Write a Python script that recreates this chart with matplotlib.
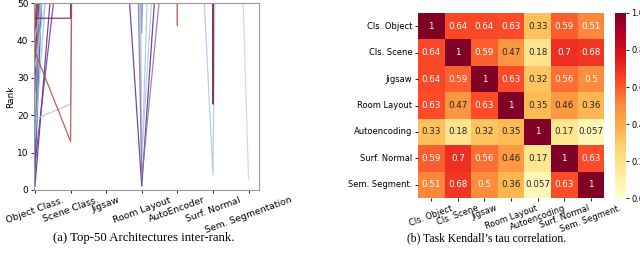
import matplotlib
matplotlib.use("Agg")
import matplotlib.pyplot as plt
import numpy as np
import seaborn as sns

# left panel: rank of each top-50 architecture on every task (ranks > 50 fall off the top)
tasks = ["Object Class.", "Scene Class.", "Jigsaw", "Room Layout",
         "AutoEncoder", "Surf. Normal", "Sem. Segmentation"]

arch_ranks = [
    [1, 118, 1800, 1500, 1400, 1300, 1600],
    [4, 260, 1700, 1600, 1500, 1400, 1500],
    [7, 90, 1600, 1400, 1300, 1200, 1400],
    [9, 400, 1500, 1300, 1200, 1100, 1300],
    [11, 330, 1400, 1200, 1100, 1000, 1200],
    [14, 140, 1300, 1100, 1000, 900, 1100],
    [19, 23, 1400, 1000, 900, 800, 1000],
    [22, 600, 1200, 900, 800, 700, 900],
    [26, 160, 1100, 800, 700, 600, 800],
    [29, 420, 1000, 700, 600, 500, 700],
    [31, 300, 900, 600, 500, 400, 600],
    [33, 95, 800, 500, 400, 300, 500],
    [37, 13, 1300, 1400, 1300, 1200, 1100],
    [39, 700, 700, 600, 500, 400, 300],
    [41, 85, 600, 500, 400, 300, 200],
    [43, 350, 500, 400, 300, 200, 300],
    [45, 900, 400, 300, 200, 300, 400],
    [46, 46, 2000, 1800, 1700, 1600, 1500],
    [48, 250, 300, 200, 300, 400, 500],
    [50, 500, 200, 300, 400, 500, 600],
    [1500, 1400, 145, 1, 140, 1200, 1100],
    [1400, 1300, 800, 6, 300, 1100, 1000],
    [1300, 1200, 1200, 9, 160, 1000, 900],
    [1200, 1100, 600, 42, 400, 900, 800],
    [1100, 1000, 500, 3, 100, 800, 700],
    [1000, 900, 2500, 3000, 44, 3000, 2000],
    [900, 800, 700, 600, 196, 4, 900],
    [800, 700, 600, 3000, 3000, 23, 3000],
    [700, 600, 500, 400, 900, 316, 3],
]
line_colors = [
    "#5a2a8c", "#3b4fa8", "#6a3a9a", "#4a2c80", "#5b7fc0", "#9fc0e0", "#a9c4e0",
    "#e2b3a3", "#6f8fca", "#b84a3e", "#8a2a3a", "#b9d0e8", "#b8473a", "#c05a45",
    "#a8c2de", "#7a1f3d", "#c86a50", "#7a1f4f", "#e0a890", "#b04040",
    "#5b2a86", "#a9c4e0", "#b4c8df", "#7a9fd0", "#8a70b0",
    "#c0604a", "#aac6e2", "#6e1a40", "#ecc8bc",
]

# right panel: Kendall tau between tasks
corr_labels = ["Cls. Object", "Cls. Scene", "Jigsaw", "Room Layout",
               "Autoencoding", "Surf. Normal", "Sem. Segment."]
tau = [
    [1, 0.64, 0.64, 0.63, 0.33, 0.59, 0.51],
    [0.64, 1, 0.59, 0.47, 0.18, 0.7, 0.68],
    [0.64, 0.59, 1, 0.63, 0.32, 0.56, 0.5],
    [0.63, 0.47, 0.63, 1, 0.35, 0.46, 0.36],
    [0.33, 0.18, 0.32, 0.35, 1, 0.17, 0.057],
    [0.59, 0.7, 0.56, 0.46, 0.17, 1, 0.63],
    [0.51, 0.68, 0.5, 0.36, 0.057, 0.63, 1],
]

fig = plt.figure(figsize=(6.4, 2.54), dpi=100)

# ---- left: inter-rank lines
ax1 = fig.add_axes([0.053, 0.252, 0.352, 0.735])
xs = np.arange(len(tasks))
for row, c in zip(arch_ranks, line_colors):
    ax1.plot(xs, row, color=c, lw=0.9, alpha=0.85)
ax1.set_ylim(0, 50)
ax1.set_xlim(-0.03, 6.3)
ax1.set_xticks(xs)
ax1.set_xticklabels(tasks, rotation=20, ha="center", fontsize=6.7)
ax1.set_yticks([0, 10, 20, 30, 40, 50])
ax1.tick_params(axis="y", labelsize=6.5, length=2.5, width=0.6, pad=1.5)
ax1.tick_params(axis="x", length=2.5, width=0.6, pad=1.5)
ax1.set_ylabel("Rank", fontsize=6.5, labelpad=1)
for sp in ax1.spines.values():
    sp.set_color("0.6")
    sp.set_linewidth(0.8)

# ---- right: heatmap
ax2 = fig.add_axes([0.653, 0.220, 0.291, 0.729])
cax = fig.add_axes([0.961, 0.220, 0.017, 0.729])
sns.heatmap(np.array(tau), ax=ax2, cbar_ax=cax, cmap="YlOrRd", vmin=0, vmax=1,
            annot=True, annot_kws={"fontsize": 6.3},
            xticklabels=corr_labels, yticklabels=corr_labels)
ax2.set_xticklabels(corr_labels, rotation=20, ha="center", fontsize=6)
ax2.set_yticklabels(corr_labels, rotation=0, fontsize=6)
ax2.tick_params(length=2.5, width=0.6, pad=1.5)
cax.tick_params(labelsize=6, length=2.5, width=0.6, pad=1.5)
cax.set_yticks([0.0, 0.2, 0.4, 0.6, 0.8, 1.0])
cax.set_yticklabels(["0.0", "0.2", "0.4", "0.6", "0.8", "1.0"])

# captions
fig.text(0.224, 0.063, "(a) Top-50 Architectures inter-rank.",
         ha="center", va="center", fontsize=9.2, family="Liberation Serif")
fig.text(0.760, 0.063, "(b) Task Kendall\u2019s tau correlation.",
         ha="center", va="center", fontsize=8.4, family="Liberation Serif")

fig.savefig("out.png", dpi=100)
